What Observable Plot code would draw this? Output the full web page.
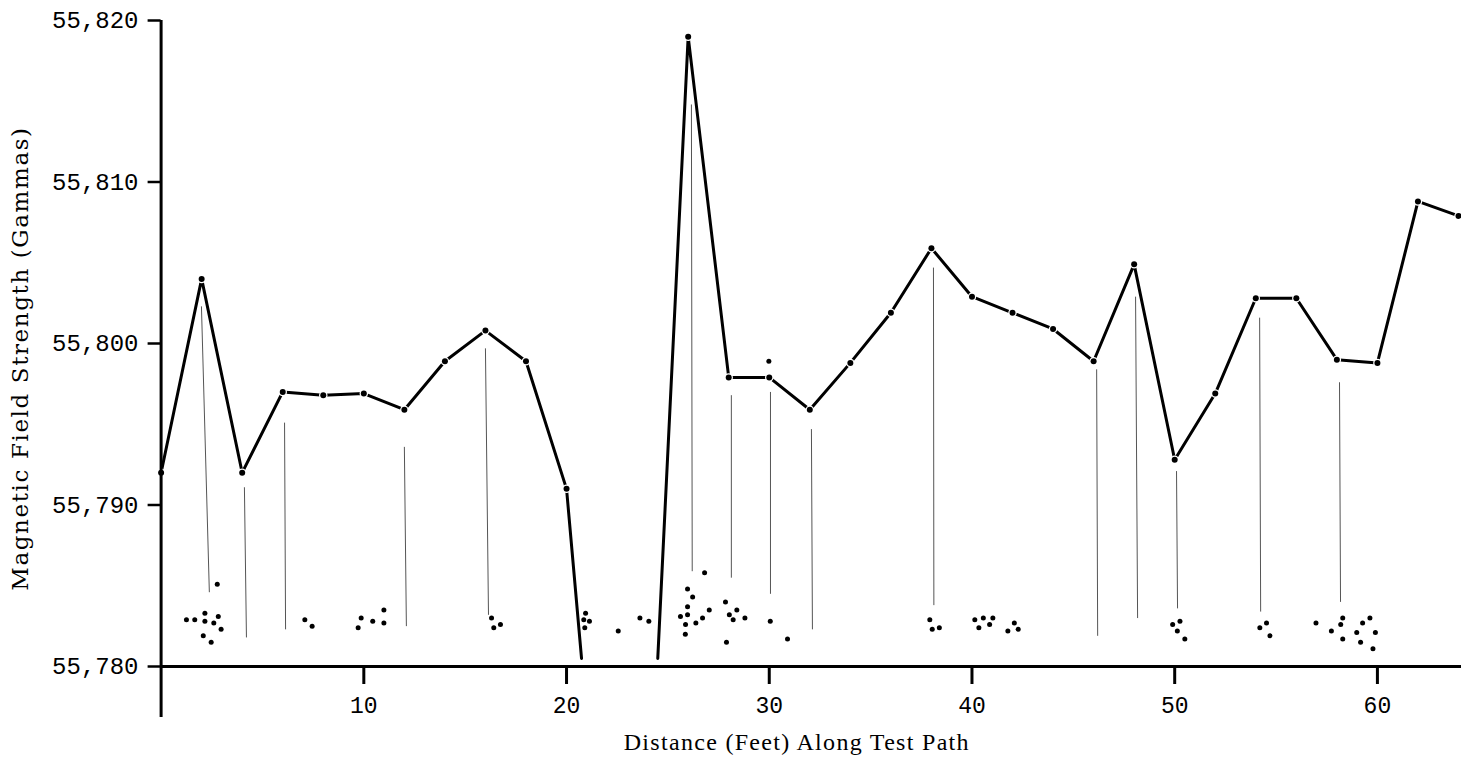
<!DOCTYPE html>
<html><head><meta charset="utf-8">
<script src="https://cdn.jsdelivr.net/npm/d3@7"></script>
<script src="https://cdn.jsdelivr.net/npm/@observablehq/plot@0.6"></script>
<style>body{margin:0;background:#fff} svg{display:block}</style>
</head><body><div id="chart"></div>
<script>
// Profile, first segment (ends where the trace runs off the bottom)
const distanceA = [0, 2, 4, 6, 8, 10, 12, 14, 16, 18, 20, 20.74];
const fieldA = [55792, 55804, 55792, 55797, 55796.8, 55796.9, 55795.9, 55798.9, 55800.8, 55798.9, 55791, 55780.5];
// Profile, second segment
const distanceB = [24.5, 26, 28, 30, 32, 34, 36, 38, 40, 42, 44, 46, 48, 50, 52, 54, 56, 58, 60, 62, 64];
const fieldB = [55780.5, 55819, 55797.9, 55797.9, 55795.9, 55798.8, 55801.9, 55805.9, 55802.9, 55801.9, 55800.9, 55798.9, 55804.9, 55792.8, 55796.9, 55802.8, 55802.8, 55799, 55798.8, 55808.8, 55807.9];

// Thin vertical drop lines
const dropX1 = [1.99, 4.11, 6.09, 12.0, 16.0, 26.16, 28.13, 30.06, 32.08, 38.1, 46.15, 48.07, 50.09, 54.19, 58.13];
const dropX2 = [2.38, 4.21, 6.14, 12.1, 16.15, 26.2, 28.13, 30.06, 32.13, 38.12, 46.2, 48.17, 50.14, 54.24, 58.18];
const dropTop = [55802.3, 55791.1, 55795.1, 55793.6, 55799.7, 55814.8, 55796.8, 55797, 55794.7, 55804.7, 55798.4, 55802.9, 55792.1, 55801.6, 55797.6];
const dropBottom = [55784.6, 55781.8, 55782.3, 55782.5, 55783.2, 55785.9, 55785.5, 55784.5, 55782.3, 55783.8, 55781.9, 55783.0, 55783.6, 55783.4, 55784.0];

// Scattered readings near the base
const scatterX = [1.25,1.66,2.16,2.16,2.60,2.82,2.96,2.08,2.47,2.77,7.09,7.45,9.72,9.87,10.44,10.99,10.99,16.30,16.41,16.74,
  20.94,20.85,21.13,20.90,22.55,23.62,24.06,25.62,25.87,25.86,25.97,25.97,25.97,26.22,26.38,26.71,27.04,26.81,27.84,28.03,
  28.22,28.40,28.80,27.89,30.05,29.98,30.90,37.92,38.04,38.39,40.14,40.34,40.56,40.87,41.03,41.77,42.09,42.28,49.90,50.26,
  50.13,50.50,54.20,54.53,54.70,56.97,57.73,58.19,58.29,58.29,58.98,59.27,59.63,59.90,59.17,59.78];
const scatterY = [55782.9,55782.9,55783.3,55782.8,55782.7,55783.1,55782.3,55781.9,55781.5,55785.1,55782.9,55782.5,55782.4,55783.0,55782.8,55783.5,55782.7,55783.0,55782.4,55782.6,
  55783.3,55782.9,55782.8,55782.4,55782.2,55783.0,55782.8,55783.1,55782.6,55782.0,55783.7,55783.2,55784.8,55784.3,55782.7,55783.0,55783.5,55785.8,55784.0,55783.2,
  55782.9,55783.5,55783.0,55781.5,55782.8,55798.9,55781.7,55782.9,55782.3,55782.4,55782.9,55782.4,55783.0,55782.6,55783.0,55782.2,55782.7,55782.3,55782.6,55782.8,
  55782.2,55781.7,55782.4,55782.7,55781.9,55782.7,55782.2,55782.6,55783.0,55781.7,55782.1,55782.7,55783.0,55782.1,55781.5,55781.1];

const yTicks = [55780, 55790, 55800, 55810, 55820];
const xTicks = [10, 20, 30, 40, 50, 60];
const yTitle = "Magnetic Field Strength (Gammas)";
const xTitle = "Distance (Feet) Along Test Path";

const segA = distanceA.map((d, i) => ({x: d, y: fieldA[i]}));
const segB = distanceB.map((d, i) => ({x: d, y: fieldB[i]}));
const vertices = [...segA, ...segB].filter(d => d.x % 2 === 0);
const drops = dropX1.map((d, i) => ({x1: d, x2: dropX2[i], y1: dropTop[i], y2: dropBottom[i]}));
const scatter = scatterX.map((d, i) => ({x: d, y: scatterY[i]}));

const mono = "Liberation Mono, DejaVu Sans Mono, monospace";

const chart = Plot.plot({
  width: 1461,
  height: 766,
  marginLeft: 160.6,
  marginRight: 3,
  marginTop: 20,
  marginBottom: 100,
  x: {domain: [0, 64]},
  y: {domain: [55780, 55820]},
  marks: [
    Plot.link(drops, {x1: "x1", x2: "x2", y1: "y1", y2: "y2", stroke: "#555", strokeWidth: 1}),
    Plot.line(segA, {x: "x", y: "y", stroke: "#000", strokeWidth: 3}),
    Plot.line(segB, {x: "x", y: "y", stroke: "#000", strokeWidth: 3}),
    Plot.dot(vertices, {x: "x", y: "y", r: 3, fill: "#000", stroke: "#fff", strokeWidth: 2.5, paintOrder: "stroke"}),
    Plot.dot(scatter, {x: "x", y: "y", r: 2.5, fill: "#000", stroke: "none"}),
    Plot.ruleX([0], {stroke: "#000", strokeWidth: 3, insetBottom: -51}),
    Plot.ruleY([55780], {stroke: "#000", strokeWidth: 3, insetRight: -3}),
    Plot.axisY({ticks: yTicks, tickFormat: d3.format(","), tickSize: 13, tickPadding: 9.6, fontSize: 24, fontFamily: mono, strokeWidth: 2.5, label: null}),
    Plot.axisX({ticks: xTicks, tickSize: 18, tickPadding: 12, fontSize: 23, fontFamily: mono, strokeWidth: 3, label: null}),
    Plot.text([yTitle], {frameAnchor: "left", text: d => d, rotate: -90, dx: -140, dy: 15, textAnchor: "middle", lineAnchor: "middle", fontSize: 23, fontFamily: "DejaVu Serif, serif", fill: "#000"}),
    Plot.text([xTitle], {frameAnchor: "bottom", text: d => d, dx: -13, dy: 76, textAnchor: "middle", lineAnchor: "middle", fontSize: 24, fontFamily: "Liberation Serif, serif", fill: "#000"})
  ]
});
const allText = d3.select(chart).selectAll("text");
allText.filter(function() { return this.textContent === yTitle; }).style("letter-spacing", "1.6px");
allText.filter(function() { return this.textContent === xTitle; }).style("letter-spacing", "1.3px");
document.getElementById("chart").appendChild(chart);
</script>
</body></html>
